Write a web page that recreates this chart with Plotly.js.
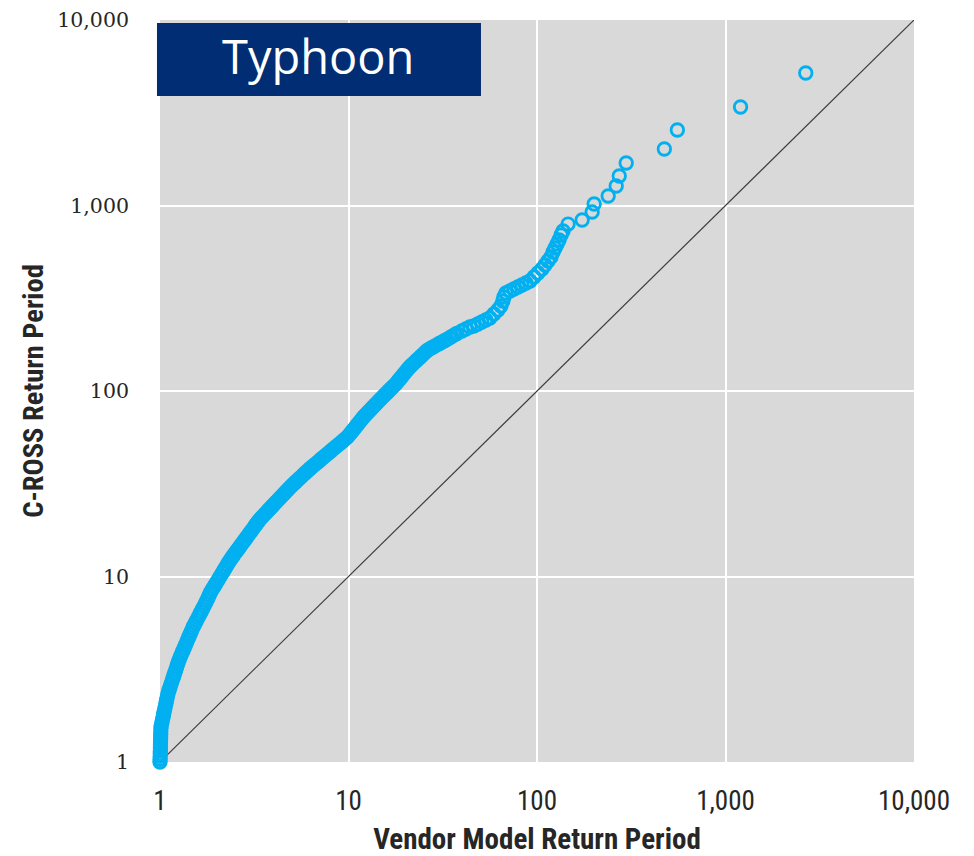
<!DOCTYPE html>
<html>
<head>
<meta charset="utf-8">
<script src="https://cdn.plot.ly/plotly-3.0.1.min.js"></script>
<style>html,body{margin:0;padding:0;background:#fff;}#chart{width:974px;height:856px;}</style>
</head>
<body>
<div id="chart"></div>
<script>
// Vendor model return period (x) vs C-ROSS return period (y)
var lowerVendor = [
  1.000,1.001,1.002,1.003,1.004,1.005,1.005,1.006,1.007,1.008,
  1.009,1.010,1.011,1.014,1.022,1.029,1.037,1.044,1.051,1.059,
  1.067,1.075,1.082,1.090,1.098,1.106,1.119,1.132,1.144,1.157,
  1.171,1.184,1.197,1.211,1.225,1.238,1.252,1.268,1.286,1.305,
  1.324,1.344,1.363,1.384,1.404,1.424,1.445,1.467,1.488,1.512,
  1.539,1.566,1.594,1.623,1.652,1.681,1.711,1.741,1.772,1.799,
  1.825,1.855,1.894,1.934,1.974,2.015,2.057,2.099,2.143,2.188,
  2.233,2.279,2.326
];
var lowerCross = [
  1.000,1.035,1.072,1.109,1.148,1.189,1.230,1.274,1.318,1.365,
  1.413,1.462,1.514,1.567,1.622,1.679,1.738,1.799,1.862,1.928,
  1.995,2.065,2.138,2.213,2.291,2.371,2.455,2.541,2.630,2.723,
  2.818,2.917,3.020,3.126,3.236,3.350,3.467,3.589,3.715,3.846,
  3.981,4.121,4.266,4.416,4.571,4.732,4.898,5.070,5.248,5.433,
  5.623,5.821,6.026,6.237,6.457,6.683,6.918,7.161,7.413,7.674,
  7.943,8.222,8.511,8.810,9.120,9.441,9.772,10.12,10.47,10.84,
  11.22,11.61,12.02
];
var midVendor = [
  2.376,2.424,2.474,2.524,2.576,2.629,2.682,2.737,2.793,2.850,2.908,2.967,3.027,3.090,3.153,3.216,3.282,3.350,
  3.425,3.506,3.588,3.673,3.759,3.848,3.938,4.031,4.126,4.223,4.322,4.424,4.528,4.634,4.743,4.855,
  4.973,5.098,5.225,5.355,5.489,5.627,5.768,5.911,6.061,
  6.217,6.379,6.548,6.720,6.897,7.077,7.264,7.455,7.652,
  7.856,8.061,8.276,8.494,8.717,8.950,9.187,9.429,9.678,
  9.926,10.14,10.36,10.58,10.81,11.04,11.28,11.52,11.77,12.02,
  12.31,12.60,12.90,13.20,13.51,13.83,14.16,14.49,
  14.84,15.20,15.57,15.95,16.33,16.73,17.13,17.55,17.97,
  18.36,18.76,19.17,19.58,20.01,20.44,20.89,
  21.38,21.92,22.47,23.03,23.61,24.20,24.80,25.42,26.06,
  26.81,27.66,28.52,29.42,30.35,31.30,32.28,
  33.29,34.31,35.37,36.46,37.58
];
var midCross = [
  12.42,12.78,13.14,13.52,13.90,14.30,14.71,15.13,15.56,16.00,16.46,16.93,17.41,17.91,18.42,18.95,19.49,20.04,
  20.57,21.10,21.63,22.18,22.75,23.33,23.92,24.53,25.15,25.79,26.44,27.12,27.81,28.51,29.24,29.98,
  30.72,31.45,32.21,32.98,33.77,34.57,35.40,36.25,37.12,
  37.98,38.84,39.72,40.62,41.53,42.47,43.43,44.41,45.42,
  46.44,47.49,48.56,49.65,50.77,51.89,53.06,54.26,55.48,
  56.77,58.34,59.95,61.59,63.28,65.01,66.80,68.63,70.51,72.44,
  74.30,76.17,78.10,80.07,82.10,84.18,86.30,88.49,
  90.70,92.93,95.24,97.59,100.0,102.5,105.0,107.6,110.3,
  113.3,116.4,119.5,122.8,126.1,129.6,133.0,
  136.4,139.7,143.0,146.5,149.9,153.5,157.2,161.0,164.8,
  168.2,171.1,174.1,177.2,180.3,183.5,186.6,
  190.0,193.5,197.0,200.6,204.2
];
var upperVendor = [
  39.91,41.91,44.01,46.23,48.56,50.98,53.55,56.23,59.06,62.03,
  64.35,65.94,66.76,68.41,71.85,75.45,79.23,83.22,87.40,91.79,
  96.38,101.2,106.3,110.3,114.4,118.7,121.7,124.7,127.8,130.9,
  134.2,137.5
];
var upperCross = [
  210.6,215.9,221.3,224.1,229.7,235.5,241.4,247.5,260.1,273.4,
  287.3,305.6,321.2,337.6,346.1,354.8,363.7,372.8,382.1,391.8,
  411.7,432.6,454.7,477.9,502.2,527.8,561.6,590.2,620.3,651.7,
  693.4,728.8
];
var tailVendor = [146.2,173.6,196.2,201.0,238.6,263.2,273.1,297.4,473.8,555.4,1202,2665];
var tailCross  = [794.3,835.3,922.6,1019,1125,1274,1442,1695,2017,2553,3396,5180];

// 1:1 reference line
var refLine = [1, 10000];

// axis ticks
var tickValues = [1, 10, 100, 1000, 10000];
var tickLabels = ['1', '10', '100', '1,000', '10,000'];

var panelTitle = 'Typhoon';
var xTitle = 'Vendor Model Return Period';
var yTitle = 'C-ROSS Return Period';

var vendorRP = lowerVendor.concat(midVendor, upperVendor, tailVendor);
var crossRP = lowerCross.concat(midCross, upperCross, tailCross);

var sansNarrow = 'Liberation Sans Narrow, Roboto Condensed, Lato, sans-serif';

var traces = [
  {
    x: refLine, y: refLine, type: 'scatter', mode: 'lines',
    line: {color: '#3c3c3c', width: 1.2}, hoverinfo: 'skip', showlegend: false
  },
  {
    x: vendorRP, y: crossRP, type: 'scatter', mode: 'markers', cliponaxis: false,
    marker: {symbol: 'circle-open', size: 12.5, color: '#00B0F0', line: {color: '#00B0F0', width: 2.8}},
    showlegend: false
  }
];

var layout = {
  width: 974, height: 856,
  margin: {l: 160, r: 60, t: 20, b: 94},
  paper_bgcolor: '#ffffff',
  plot_bgcolor: '#d9d9d9',
  showlegend: false,
  xaxis: {
    type: 'log', range: [0, 4],
    tickvals: tickValues, ticktext: tickLabels,
    showgrid: true, gridcolor: '#ffffff', gridwidth: 2,
    zeroline: false, showline: false, ticks: '',
    ticklabelstandoff: 20,
    tickfont: {family: sansNarrow, size: 27, color: '#262626'},
    title: {text: xTitle, standoff: 15,
      font: {family: sansNarrow, size: 29, color: '#262626', weight: 'bold'}}
  },
  yaxis: {
    type: 'log', range: [0, 4],
    tickvals: tickValues, ticktext: tickLabels,
    showgrid: true, gridcolor: '#ffffff', gridwidth: 2,
    zeroline: false, showline: false, ticks: '',
    ticklabelstandoff: 30,
    tickfont: {family: 'DejaVu Serif, serif', size: 20.5, color: '#262626'},
    title: {text: yTitle, standoff: 5,
      font: {family: sansNarrow, size: 28.5, color: '#262626', weight: 'bold'}}
  },
  shapes: [
    {type: 'rect', xref: 'paper', yref: 'paper', x0: -0.004, x1: 0.4257, y0: 0.8976, y1: 0.996,
     fillcolor: '#002D74', line: {width: 0}, layer: 'above'}
  ],
  annotations: [
    {xref: 'paper', yref: 'paper', x: 0.2095, y: 0.951, xanchor: 'center', yanchor: 'middle',
     text: panelTitle, showarrow: false,
     font: {family: 'Open Sans, Noto Sans, sans-serif', size: 47, color: '#ffffff'}}
  ]
};

Plotly.newPlot('chart', traces, layout, {displayModeBar: false, staticPlot: true});
</script>
</body>
</html>
